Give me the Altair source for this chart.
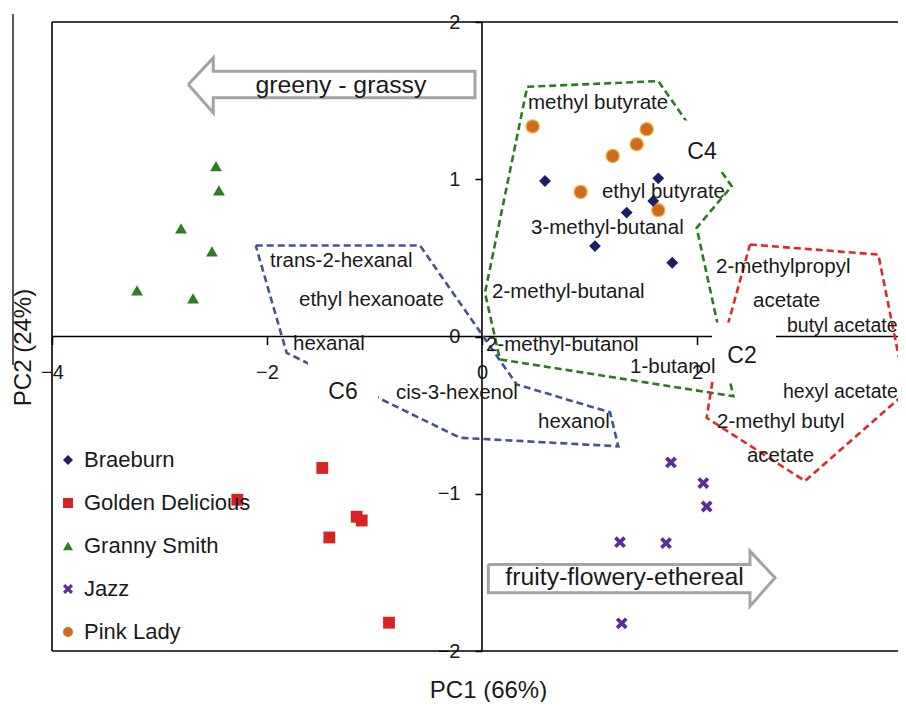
import altair as alt
import pandas as pd

# ---------------- data ----------------
varieties = ["Braeburn", "Golden Delicious", "Granny Smith", "Jazz", "Pink Lady"]

braeburn_x = [0.586, 1.640, 1.593, 1.346, 1.051, 1.770]
braeburn_y = [0.989, 1.006, 0.862, 0.788, 0.575, 0.469]
golden_x = [-1.486, -2.276, -1.166, -1.119, -1.420, -0.865]
golden_y = [-0.836, -1.038, -1.146, -1.170, -1.278, -1.820]
granny_x = [-2.474, -2.447, -2.800, -2.512, -3.209, -2.688]
granny_y = [1.083, 0.930, 0.688, 0.541, 0.293, 0.242]
jazz_x = [1.758, 2.059, 2.090, 1.284, 1.712, 1.300]
jazz_y = [-0.801, -0.932, -1.081, -1.308, -1.314, -1.824]
pink_x = [0.471, 1.532, 1.439, 1.216, 0.918, 1.640]
pink_y = [1.336, 1.318, 1.223, 1.148, 0.919, 0.804]

# cluster outlines (vertices)
c6_x = [-2.105, -0.577, 0.323, 1.191, 1.268, -0.205, -1.817]
c6_y = [0.579, 0.579, -0.305, -0.482, -0.698, -0.644, -0.104]
c4_x = [0.421, 1.640, 2.323, 1.997, 2.338, 0.167, 0.028]
c4_y = [1.588, 1.624, 0.956, 0.691, -0.380, -0.146, 0.278]
c2_x = [2.493, 3.687, 3.944, 3.005, 2.090, 2.147]
c2_y = [0.585, 0.521, -0.356, -0.919, -0.517, -0.273]

# compound labels (left edge, middle)
compounds = ["methyl butyrate", "ethyl butyrate", "3-methyl-butanal", "2-methyl-butanal",
             "2-methylpropyl", "acetate", "2-methyl butyl", "acetate", "1-butanol",
             "2-methyl-butanol", "cis-3-hexenol", "hexanol", "hexanal",
             "ethyl hexanoate", "trans-2-hexanal"]
compound_x = [0.428, 1.116, 0.456, 0.093, 2.177, 2.521, 2.186, 2.465, 1.377,
              0.037, -0.800, 0.521, -1.758, -1.702, -1.972]
compound_y = [1.488, 0.916, 0.693, 0.286, 0.445, 0.223, -0.541, -0.763, -0.197,
              -0.051, -0.362, -0.541, -0.045, 0.229, 0.483]
# labels that touch the right edge of the picture
edge_compounds = ["butyl acetate", "hexyl acetate"]
edge_x = [2.837, 2.800]
edge_y = [0.064, -0.356]

# cluster names and their white label boxes
clusters = ["C4", "C6", "C2"]
cluster_x = [2.047, -1.293, 2.419]
cluster_y = [1.176, -0.350, -0.127]
box_x = [1.842, -1.619, 2.140]
box_x2 = [2.260, -0.967, 2.735]
box_y = [1.049, -0.401, -0.280]
box_y2 = [1.374, -0.083, 0.089]

# block arrows
arrow_names = ["greeny - grassy", "fruity-flowery-ethereal"]
arrow_label_x = [-1.312, 1.326]
arrow_label_y = [1.596, -1.534]
left_arrow_x = [-2.732, -2.500, -2.500, -0.065, -0.065, -2.500, -2.500, -2.732]
left_arrow_y = [1.603, 1.772, 1.687, 1.687, 1.518, 1.518, 1.423, 1.603]
right_arrow_x = [0.059, 2.493, 2.493, 2.726, 2.493, 2.493, 0.059, 0.059]
right_arrow_y = [-1.450, -1.450, -1.365, -1.534, -1.715, -1.630, -1.630, -1.450]

x_ticks = [-4, -2, 0, 2]
y_ticks = [-2, -1, 0, 1, 2]
X_DOMAIN = [-4, 3.87]
Y_DOMAIN = [-2, 2]

# ---------------- tables ----------------
pts = pd.DataFrame({
    "variety": sum([[v] * 6 for v in varieties], []),
    "x": braeburn_x + golden_x + granny_x + jazz_x + pink_x,
    "y": braeburn_y + golden_y + granny_y + jazz_y + pink_y,
})


def poly(name, xs_, ys_):
    n = len(xs_)
    return pd.DataFrame({"g": name, "o": list(range(n + 1)),
                         "x": list(xs_) + [xs_[0]], "y": list(ys_) + [ys_[0]]})


c6 = poly("C6", c6_x, c6_y)
c4 = poly("C4", c4_x, c4_y)
c2 = poly("C2", c2_x, c2_y)
arrows = pd.concat([
    pd.DataFrame({"g": "left", "o": range(len(left_arrow_x)), "x": left_arrow_x, "y": left_arrow_y}),
    pd.DataFrame({"g": "right", "o": range(len(right_arrow_x)), "x": right_arrow_x, "y": right_arrow_y}),
])
comp = pd.DataFrame({"t": compounds, "x": compound_x, "y": compound_y})
edge = pd.DataFrame({"t": edge_compounds, "x": edge_x, "y": edge_y})
clus = pd.DataFrame({"t": clusters, "x": cluster_x, "y": cluster_y})
boxes = pd.DataFrame({"x": box_x, "x2": box_x2, "y": box_y, "y2": box_y2})
arr_lab = pd.DataFrame({"t": arrow_names, "x": arrow_label_x, "y": arrow_label_y})
frame = pd.DataFrame({
    "x": [X_DOMAIN[0], X_DOMAIN[0], X_DOMAIN[0], X_DOMAIN[0], 0],
    "x2": [X_DOMAIN[1], X_DOMAIN[1], X_DOMAIN[0], X_DOMAIN[1], 0],
    "y": [Y_DOMAIN[1], Y_DOMAIN[0], Y_DOMAIN[0], 0, Y_DOMAIN[0]],
    "y2": [Y_DOMAIN[1], Y_DOMAIN[0], Y_DOMAIN[1], 0, Y_DOMAIN[1]],
})

# ---------------- styling ----------------
W, H = 846, 629
PAD = {"left": 44, "top": 14, "right": 0, "bottom": 51}
FONT = "Liberation Sans"
TXT = "#1a1a1a"
colors = ["#1b1f66", "#d42424", "#2e7d22", "#5a2ca0", "#cf6a1e"]
x_shape = "M-1,-0.55L-0.55,-1L0,-0.45L0.55,-1L1,-0.55L0.45,0L1,0.55L0.55,1L0,0.45L-0.55,1L-1,0.55L-0.45,0Z"
shapes = ["diamond", "square", "triangle-up", x_shape, "circle"]

x_zero_px = W * (0 - X_DOMAIN[0]) / (X_DOMAIN[1] - X_DOMAIN[0])
y_zero_px = H * (Y_DOMAIN[1] - 0) / (Y_DOMAIN[1] - Y_DOMAIN[0])

xs = alt.Scale(domain=X_DOMAIN, nice=False, zero=False)
ys = alt.Scale(domain=Y_DOMAIN, nice=False, zero=False)

x_axis = alt.Axis(values=x_ticks, offset=-(H - y_zero_px), domain=False, grid=False,
                  tickSize=8, tickColor="black", tickWidth=1.5, labelPadding=18,
                  labelFontSize=20, labelFont=FONT, labelColor=TXT, labelFlush=False,
                  labelOverlap=False, labelBound=False,
                  title="PC1 (66%)", titleFontSize=24, titleFont=FONT, titleColor=TXT,
                  titleFontWeight="normal", titleX=436, titleY=668 - y_zero_px,
                  titleBaseline="middle", titleAlign="center")
y_axis = alt.Axis(values=y_ticks, offset=-x_zero_px, domain=False, grid=False,
                  tickSize=7, tickColor="black", tickWidth=1.5, labelPadding=15,
                  labelFontSize=20, labelFont=FONT, labelColor=TXT, labelFlush=False,
                  labelOverlap=False, labelBound=False,
                  title="PC2 (24%)", titleFontSize=24, titleFont=FONT, titleColor=TXT,
                  titleFontWeight="normal", titleX=-29 - x_zero_px, titleY=325,
                  titleAngle=270, titleBaseline="middle", titleAlign="center")


def X(f="x"):
    return alt.X(f + ":Q", scale=xs, axis=x_axis)


def Y(f="y"):
    return alt.Y(f + ":Q", scale=ys, axis=y_axis)


frame_layer = alt.Chart(frame).mark_rule(color="black", strokeWidth=1.6).encode(
    x=X(), x2="x2:Q", y=Y(), y2="y2:Q")

side_line = alt.Chart(frame.head(1)).mark_rule(color="black", strokeWidth=1.3).encode(
    x=alt.value(-39), y=alt.value(-8), y2=alt.value(343))


def outline(df, col):
    return alt.Chart(df).mark_line(color=col, strokeWidth=2.6, strokeDash=[7, 4], clip=True).encode(
        x=X(), y=Y(), order="o:Q")


c6_layer = outline(c6, "#42538d")
c4_layer = outline(c4, "#2a7a20")
c2_layer = outline(c2, "#e0282a")

box_layer = alt.Chart(boxes).mark_rect(color="white").encode(x=X(), x2="x2:Q", y=Y(), y2="y2:Q")

legend = alt.Legend(title=None, orient="none", legendX=5, legendY=427, labelFontSize=22,
                    labelFont=FONT, labelColor=TXT, labelLimit=400, symbolSize=100,
                    rowPadding=21, labelOffset=5, padding=0, symbolStrokeWidth=0)

halo = alt.Chart(pts).transform_filter(alt.datum.variety == "Pink Lady").mark_point(
    filled=True, shape="circle", size=210, color="#e9b548", opacity=1).encode(x=X(), y=Y())

points = alt.Chart(pts).mark_point(filled=True, size=140, opacity=1).encode(
    x=X(), y=Y(),
    color=alt.Color("variety:N", scale=alt.Scale(domain=varieties, range=colors), legend=legend),
    shape=alt.Shape("variety:N", scale=alt.Scale(domain=varieties, range=shapes), legend=legend),
)

arrow_layer = alt.Chart(arrows).mark_line(fill="white", stroke="#a3a3a3", strokeWidth=3,
                                          strokeJoin="miter").encode(
    x=X(), y=Y(), order="o:Q", detail="g:N")

comp_text = alt.Chart(comp).mark_text(align="left", baseline="middle", fontSize=20.5, font=FONT,
                                      color=TXT).encode(x=X(), y=Y(), text="t:N")
edge_text = alt.Chart(edge).mark_text(align="left", baseline="middle", fontSize=19.5, font=FONT,
                                      color=TXT).encode(x=X(), y=Y(), text="t:N")
clus_text = alt.Chart(clus).mark_text(align="center", baseline="middle", fontSize=23, font=FONT,
                                      color=TXT).encode(x=X(), y=Y(), text="t:N")
arrow_text = alt.Chart(arr_lab).mark_text(align="center", baseline="middle", fontSize=24.8, font=FONT,
                                          color=TXT).encode(x=X(), y=Y(), text="t:N")

chart = alt.layer(
    frame_layer, side_line, c6_layer, c4_layer, c2_layer, box_layer,
    halo, points, arrow_layer, comp_text, edge_text, clus_text, arrow_text,
).properties(
    width=W, height=H,
    autosize=alt.AutoSizeParams(type="none"),
    padding=PAD,
    background="white",
).configure_view(stroke=None)

chart.save("out.html", embed_options={"renderer": "svg", "actions": False})
